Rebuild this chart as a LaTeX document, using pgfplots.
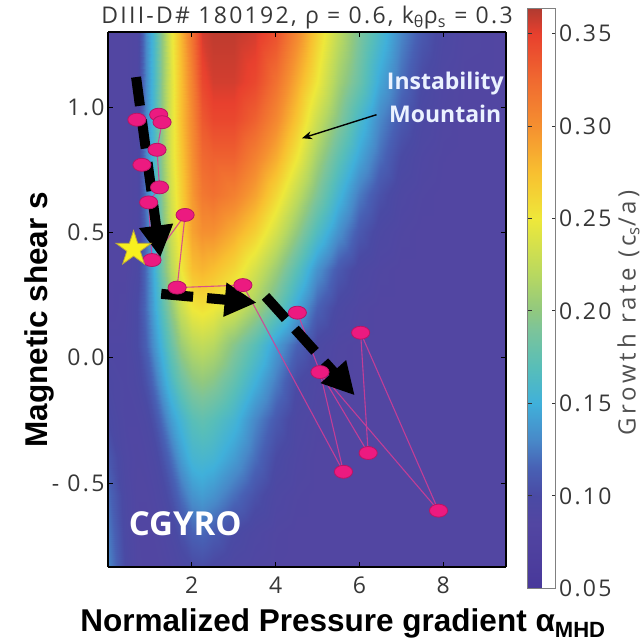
\documentclass[border=0pt]{standalone}
\usepackage{fontspec}
\setmainfont{Open Sans}
\newfontfamily\lsans{Liberation Sans}
\newfontfamily\ostrack{Open Sans}[LetterSpace=10]
\newfontfamily\ostrackw{Open Sans}[LetterSpace=16]
\usepackage{pgfplots}
\pgfplotsset{compat=1.18}
\usetikzlibrary{arrows.meta}

\definecolor{pinkpt}{RGB}{236,26,128}
\definecolor{pinkedge}{RGB}{185,20,100}
\definecolor{pinkline}{RGB}{214,60,150}
\definecolor{ticktxt}{RGB}{55,55,55}
\definecolor{labgray}{RGB}{80,80,80}
\definecolor{staryellow}{RGB}{248,240,30}
\definecolor{staredge}{RGB}{190,170,60}
\definecolor{mtntext}{RGB}{235,242,255}

\pgfdeclareplotmark{fstar}{%
  \pgfpathmoveto{\pgfpointpolar{90}{\pgfplotmarksize}}%
  \pgfpathlineto{\pgfpointpolar{126}{0.382*\pgfplotmarksize}}%
  \pgfpathlineto{\pgfpointpolar{162}{\pgfplotmarksize}}%
  \pgfpathlineto{\pgfpointpolar{198}{0.382*\pgfplotmarksize}}%
  \pgfpathlineto{\pgfpointpolar{234}{\pgfplotmarksize}}%
  \pgfpathlineto{\pgfpointpolar{270}{0.382*\pgfplotmarksize}}%
  \pgfpathlineto{\pgfpointpolar{306}{\pgfplotmarksize}}%
  \pgfpathlineto{\pgfpointpolar{342}{0.382*\pgfplotmarksize}}%
  \pgfpathlineto{\pgfpointpolar{18}{\pgfplotmarksize}}%
  \pgfpathlineto{\pgfpointpolar{54}{0.382*\pgfplotmarksize}}%
  \pgfpathclose
  \pgfusepathqfillstroke}

\begin{document}
\begin{tikzpicture}
\begin{axis}[
  view={0}{90},
  width=398pt, height=535pt, scale only axis,
  xmin=0, xmax=9.5, ymin=-0.835, ymax=1.3,
  zmin=0, zmax=1, ztick=\empty,
  enlargelimits=false,
  axis on top,
  axis line style={black, line width=1.2pt},
  colormap={mtn}{rgb255(0pt)=(72,56,154); rgb255(35pt)=(82,70,162); rgb255(50pt)=(74,74,164); rgb255(65pt)=(72,96,180); rgb255(80pt)=(72,136,200); rgb255(100pt)=(64,176,218); rgb255(120pt)=(88,190,184); rgb255(140pt)=(124,196,154); rgb255(150pt)=(144,200,128); rgb255(170pt)=(184,216,96); rgb255(200pt)=(238,232,58); rgb255(225pt)=(248,192,48); rgb255(250pt)=(245,144,48); rgb255(275pt)=(240,106,48); rgb255(300pt)=(232,64,46); rgb255(314pt)=(176,58,48)},
  point meta min=0.05, point meta max=0.3636,
  xtick={2,4,6,8}, xticklabels={2,4,6,8},
  ytick={-0.5,0,0.5,1}, yticklabels={{- 0.5},{0.0},{0.5},{1.0}},
  tick align=inside, major tick length=5pt,
  tick style={black, line width=1pt},
  tick label style={font=\ostrack\fontsize{23}{24}\selectfont, text=ticktxt},
  xticklabel style={yshift=-6pt},
  title={DIII-D\# 180192, ρ = 0.6, k\textsubscript{θ}ρ\textsubscript{s} = 0.3},
  title style={font=\ostrack\fontsize{23}{24}\selectfont, text=ticktxt, at={(0.5,1)}, anchor=base, yshift=2pt},
  xlabel={Normalized Pressure gradient α\textsubscript{MHD}},
  ylabel={Magnetic shear s},
  every axis x label/.style={at={([xshift=36pt,yshift=-64pt]rel axis cs:0.5,0,0)}, anchor=base, font=\lsans\bfseries\fontsize{31.5}{32}\selectfont},
  every axis y label/.style={at={([xshift=-60pt]rel axis cs:0,0.462,0)}, anchor=base, rotate=90, font=\lsans\bfseries\fontsize{31.5}{32}\selectfont},
  colorbar,
  colorbar style={
    at={(parent axis.north east)}, anchor=north west,
    xshift=13pt, yshift=23.6pt,
    width=28pt, height=580pt, scale only axis,
    ytick={0.05,0.1,0.15,0.2,0.25,0.3,0.35},
    yticklabels={0.05,0.10,0.15,0.20,0.25,0.30,0.35},
    yticklabel style={font=\ostrack\fontsize{23}{24}\selectfont, text=ticktxt},
    ylabel={Growth rate (c\textsubscript{s}/a)},
    every axis y label/.style={at={([xshift=80pt]rel axis cs:1,0.475)}, anchor=base, rotate=90, font=\ostrackw\fontsize{24}{26}\selectfont, text=labgray},
    axis line style={black!50, line width=0.8pt},
    major tick length=4pt, tick style={black!80, line width=1pt},
    tick align=inside,
  },
]
\addplot3[surf, shader=interp, mesh/cols=24] table[row sep=\\] {
x y z\\
0 -0.835 0.13\\0.4 -0.835 0.10\\0.7 -0.835 0.088\\0.9 -0.835 0.086\\1.1 -0.835 0.086\\1.3 -0.835 0.087\\1.5 -0.835 0.09\\1.75 -0.835 0.095\\2 -0.835 0.10\\2.25 -0.835 0.102\\2.5 -0.835 0.098\\3 -0.835 0.092\\3.5 -0.835 0.088\\4 -0.835 0.086\\4.5 -0.835 0.085\\5 -0.835 0.085\\5.5 -0.835 0.085\\6 -0.835 0.085\\6.5 -0.835 0.085\\7 -0.835 0.085\\7.5 -0.835 0.085\\8 -0.835 0.085\\8.5 -0.835 0.085\\9.5 -0.835 0.085\\
0 -0.7 0.125\\0.4 -0.7 0.097\\0.7 -0.7 0.087\\0.9 -0.7 0.086\\1.1 -0.7 0.087\\1.3 -0.7 0.09\\1.5 -0.7 0.095\\1.75 -0.7 0.105\\2 -0.7 0.115\\2.25 -0.7 0.118\\2.5 -0.7 0.112\\3 -0.7 0.10\\3.5 -0.7 0.092\\4 -0.7 0.087\\4.5 -0.7 0.085\\5 -0.7 0.085\\5.5 -0.7 0.085\\6 -0.7 0.085\\6.5 -0.7 0.085\\7 -0.7 0.085\\7.5 -0.7 0.085\\8 -0.7 0.085\\8.5 -0.7 0.085\\9.5 -0.7 0.085\\
0 -0.55 0.12\\0.4 -0.55 0.095\\0.7 -0.55 0.087\\0.9 -0.55 0.087\\1.1 -0.55 0.09\\1.3 -0.55 0.095\\1.5 -0.55 0.105\\1.75 -0.55 0.12\\2 -0.55 0.135\\2.25 -0.55 0.14\\2.5 -0.55 0.135\\3 -0.55 0.12\\3.5 -0.55 0.105\\4 -0.55 0.092\\4.5 -0.55 0.087\\5 -0.55 0.085\\5.5 -0.55 0.085\\6 -0.55 0.085\\6.5 -0.55 0.085\\7 -0.55 0.085\\7.5 -0.55 0.085\\8 -0.55 0.085\\8.5 -0.55 0.085\\9.5 -0.55 0.085\\
0 -0.4 0.11\\0.4 -0.4 0.092\\0.7 -0.4 0.088\\0.9 -0.4 0.09\\1.1 -0.4 0.095\\1.3 -0.4 0.105\\1.5 -0.4 0.12\\1.75 -0.4 0.14\\2 -0.4 0.155\\2.25 -0.4 0.158\\2.5 -0.4 0.155\\3 -0.4 0.14\\3.5 -0.4 0.12\\4 -0.4 0.10\\4.5 -0.4 0.09\\5 -0.4 0.085\\5.5 -0.4 0.085\\6 -0.4 0.085\\6.5 -0.4 0.085\\7 -0.4 0.085\\7.5 -0.4 0.085\\8 -0.4 0.085\\8.5 -0.4 0.085\\9.5 -0.4 0.085\\
0 -0.25 0.10\\0.4 -0.25 0.09\\0.7 -0.25 0.09\\0.9 -0.25 0.095\\1.1 -0.25 0.105\\1.3 -0.25 0.12\\1.5 -0.25 0.14\\1.75 -0.25 0.155\\2 -0.25 0.17\\2.25 -0.25 0.175\\2.5 -0.25 0.17\\3 -0.25 0.155\\3.5 -0.25 0.13\\4 -0.25 0.11\\4.5 -0.25 0.093\\5 -0.25 0.087\\5.5 -0.25 0.085\\6 -0.25 0.085\\6.5 -0.25 0.085\\7 -0.25 0.085\\7.5 -0.25 0.085\\8 -0.25 0.085\\8.5 -0.25 0.085\\9.5 -0.25 0.085\\
0 -0.1 0.095\\0.4 -0.1 0.09\\0.7 -0.1 0.095\\0.9 -0.1 0.105\\1.1 -0.1 0.12\\1.3 -0.1 0.14\\1.5 -0.1 0.16\\1.75 -0.1 0.18\\2 -0.1 0.195\\2.25 -0.1 0.20\\2.5 -0.1 0.195\\3 -0.1 0.175\\3.5 -0.1 0.15\\4 -0.1 0.125\\4.5 -0.1 0.10\\5 -0.1 0.09\\5.5 -0.1 0.085\\6 -0.1 0.085\\6.5 -0.1 0.085\\7 -0.1 0.085\\7.5 -0.1 0.085\\8 -0.1 0.085\\8.5 -0.1 0.085\\9.5 -0.1 0.085\\
0 0.05 0.09\\0.4 0.05 0.09\\0.7 0.05 0.10\\0.9 0.05 0.115\\1.1 0.05 0.135\\1.3 0.05 0.155\\1.5 0.05 0.18\\1.75 0.05 0.205\\2 0.05 0.22\\2.25 0.05 0.225\\2.5 0.05 0.22\\3 0.05 0.195\\3.5 0.05 0.17\\4 0.05 0.14\\4.5 0.05 0.115\\5 0.05 0.097\\5.5 0.05 0.088\\6 0.05 0.085\\6.5 0.05 0.085\\7 0.05 0.085\\7.5 0.05 0.085\\8 0.05 0.085\\8.5 0.05 0.085\\9.5 0.05 0.085\\
0 0.2 0.085\\0.4 0.2 0.088\\0.7 0.2 0.10\\0.9 0.2 0.12\\1.1 0.2 0.145\\1.3 0.2 0.17\\1.5 0.2 0.20\\1.75 0.2 0.23\\2 0.2 0.25\\2.25 0.2 0.255\\2.5 0.2 0.25\\3 0.2 0.235\\3.5 0.2 0.21\\4 0.2 0.18\\4.5 0.2 0.145\\5 0.2 0.115\\5.5 0.2 0.097\\6 0.2 0.088\\6.5 0.2 0.085\\7 0.2 0.085\\7.5 0.2 0.085\\8 0.2 0.085\\8.5 0.2 0.085\\9.5 0.2 0.085\\
0 0.35 0.085\\0.4 0.35 0.085\\0.7 0.35 0.095\\0.9 0.35 0.12\\1.1 0.35 0.15\\1.3 0.35 0.185\\1.5 0.35 0.22\\1.75 0.35 0.25\\2 0.35 0.275\\2.25 0.35 0.28\\2.5 0.35 0.275\\3 0.35 0.26\\3.5 0.35 0.235\\4 0.35 0.205\\4.5 0.35 0.17\\5 0.35 0.135\\5.5 0.35 0.11\\6 0.35 0.095\\6.5 0.35 0.088\\7 0.35 0.085\\7.5 0.35 0.085\\8 0.35 0.085\\8.5 0.35 0.085\\9.5 0.35 0.085\\
0 0.5 0.085\\0.4 0.5 0.085\\0.7 0.5 0.09\\0.9 0.5 0.12\\1.1 0.5 0.15\\1.3 0.5 0.19\\1.5 0.5 0.23\\1.75 0.5 0.26\\2 0.5 0.29\\2.25 0.5 0.30\\2.5 0.5 0.30\\3 0.5 0.285\\3.5 0.5 0.265\\4 0.5 0.235\\4.5 0.5 0.20\\5 0.5 0.165\\5.5 0.5 0.135\\6 0.5 0.11\\6.5 0.5 0.095\\7 0.5 0.088\\7.5 0.5 0.085\\8 0.5 0.085\\8.5 0.5 0.085\\9.5 0.5 0.085\\
0 0.65 0.085\\0.4 0.65 0.085\\0.7 0.65 0.09\\0.9 0.65 0.125\\1.1 0.65 0.155\\1.3 0.65 0.195\\1.5 0.65 0.235\\1.75 0.65 0.265\\2 0.65 0.295\\2.25 0.65 0.315\\2.5 0.65 0.32\\3 0.65 0.31\\3.5 0.65 0.29\\4 0.65 0.26\\4.5 0.65 0.225\\5 0.65 0.19\\5.5 0.65 0.155\\6 0.65 0.125\\6.5 0.65 0.105\\7 0.65 0.092\\7.5 0.65 0.087\\8 0.65 0.085\\8.5 0.65 0.085\\9.5 0.65 0.085\\
0 0.8 0.085\\0.4 0.8 0.085\\0.7 0.8 0.09\\0.9 0.8 0.13\\1.1 0.8 0.16\\1.3 0.8 0.20\\1.5 0.8 0.24\\1.75 0.8 0.27\\2 0.8 0.30\\2.25 0.8 0.325\\2.5 0.8 0.33\\3 0.8 0.33\\3.5 0.8 0.31\\4 0.8 0.285\\4.5 0.8 0.25\\5 0.8 0.21\\5.5 0.8 0.175\\6 0.8 0.145\\6.5 0.8 0.12\\7 0.8 0.10\\7.5 0.8 0.09\\8 0.8 0.086\\8.5 0.8 0.085\\9.5 0.8 0.085\\
0 0.95 0.085\\0.4 0.95 0.085\\0.7 0.95 0.09\\0.9 0.95 0.13\\1.1 0.95 0.16\\1.3 0.95 0.20\\1.5 0.95 0.24\\1.75 0.95 0.275\\2 0.95 0.305\\2.25 0.95 0.335\\2.5 0.95 0.345\\3 0.95 0.345\\3.5 0.95 0.33\\4 0.95 0.305\\4.5 0.95 0.27\\5 0.95 0.23\\5.5 0.95 0.195\\6 0.95 0.16\\6.5 0.95 0.13\\7 0.95 0.11\\7.5 0.95 0.095\\8 0.95 0.088\\8.5 0.95 0.085\\9.5 0.95 0.085\\
0 1.1 0.085\\0.4 1.1 0.085\\0.7 1.1 0.09\\0.9 1.1 0.13\\1.1 1.1 0.16\\1.3 1.1 0.20\\1.5 1.1 0.24\\1.75 1.1 0.275\\2 1.1 0.31\\2.25 1.1 0.345\\2.5 1.1 0.355\\3 1.1 0.355\\3.5 1.1 0.345\\4 1.1 0.32\\4.5 1.1 0.285\\5 1.1 0.25\\5.5 1.1 0.21\\6 1.1 0.18\\6.5 1.1 0.145\\7 1.1 0.12\\7.5 1.1 0.10\\8 1.1 0.09\\8.5 1.1 0.086\\9.5 1.1 0.085\\
0 1.3 0.085\\0.4 1.3 0.085\\0.7 1.3 0.09\\0.9 1.3 0.13\\1.1 1.3 0.16\\1.3 1.3 0.20\\1.5 1.3 0.245\\1.75 1.3 0.28\\2 1.3 0.32\\2.25 1.3 0.355\\2.5 1.3 0.36\\3 1.3 0.36\\3.5 1.3 0.355\\4 1.3 0.34\\4.5 1.3 0.305\\5 1.3 0.265\\5.5 1.3 0.225\\6 1.3 0.19\\6.5 1.3 0.16\\7 1.3 0.13\\7.5 1.3 0.11\\8 1.3 0.095\\8.5 1.3 0.088\\9.5 1.3 0.085\\
};
% connecting lines
\addplot3[pinkline, line width=1.1pt, opacity=0.85] coordinates {
(1.21,0.97,0) (1.29,0.94,0) (1.17,0.83,0) (1.23,0.68,0) (0.97,0.62,0) (1.05,0.39,0) (1.84,0.57,0) (1.65,0.28,0) (3.22,0.29,0) (5.62,-0.455,0) (5.06,-0.057,0) (6.21,-0.38,0) (6.03,0.10,0) (7.89,-0.61,0) (5.06,-0.057,0) (4.52,0.18,0)
};
% points
\addplot3[only marks, mark=*, mark size=6.5pt, mark options={xscale=1.4, fill=pinkpt, draw=pinkedge, line width=0.8pt}] coordinates {
(0.69,0.95,0) (1.21,0.97,0) (1.29,0.94,0) (1.17,0.83,0) (0.81,0.77,0) (1.23,0.68,0) (0.97,0.62,0) (1.84,0.57,0) (1.05,0.39,0) (1.65,0.28,0) (3.22,0.29,0) (4.52,0.18,0) (6.03,0.10,0) (5.06,-0.057,0) (6.21,-0.38,0) (5.62,-0.455,0) (7.89,-0.61,0)
};
% star
\addplot3[only marks, mark=fstar, mark size=18.5pt, mark options={fill=staryellow, draw=staredge, line width=0.8pt}] coordinates {(0.61,0.434,0)};
% dashed arrows
\addplot3[black, line width=10pt, dash pattern=on 29pt off 14pt, -{Triangle[length=32pt,width=32pt]}] coordinates {(0.67,1.12,0) (1.25,0.40,0)};
\addplot3[black, line width=10pt, dash pattern=on 32pt off 14pt, -{Triangle[length=32pt,width=32pt]}] coordinates {(1.27,0.255,0) (3.55,0.22,0)};
\addplot3[black, line width=10pt, dash pattern=on 30pt off 14pt, -{Triangle[length=32pt,width=32pt]}] coordinates {(3.76,0.245,0) (5.89,-0.15,0)};
% annotation arrow
\addplot3[black, line width=1.4pt, -{Stealth[length=10pt,width=8pt]}] coordinates {(6.41,0.97,0) (4.63,0.876,0)};
\node[align=center, text=mtntext, font=\bfseries\fontsize{23}{33}\selectfont] at (axis cs:8.05,1.04,0) {Instability\\Mountain};
\node[text=white, font=\bfseries\fontsize{33}{34}\selectfont] at (axis cs:1.845,-0.661,0) {CGYRO};
\coordinate (LL) at (rel axis cs:0,0,0);
\coordinate (UR) at (rel axis cs:1,1,0);
\end{axis}
\pgfresetboundingbox
\path[use as bounding box] ([xshift=-108pt,yshift=-74pt]LL) rectangle ([xshift=137pt,yshift=32pt]UR);
\end{tikzpicture}
\end{document}
